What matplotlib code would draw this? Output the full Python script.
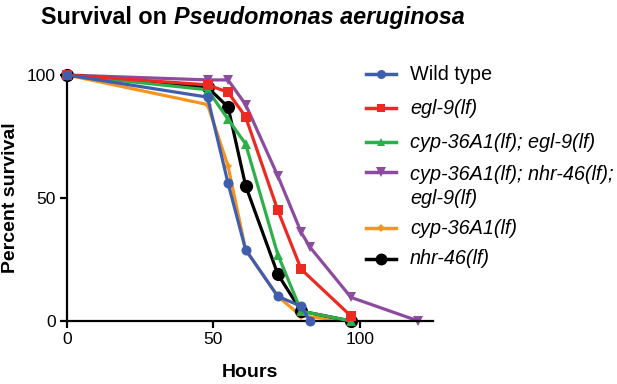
import matplotlib
matplotlib.use("Agg")
import matplotlib.pyplot as plt
from matplotlib.lines import Line2D

plt.rcParams['font.family'] = ['Liberation Sans', 'DejaVu Sans']

# ---- data ----
labels = ["Wild type", "egl-9(lf)", "cyp-36A1(lf); egl-9(lf)",
          "cyp-36A1(lf); nhr-46(lf);\negl-9(lf)", "cyp-36A1(lf)", "nhr-46(lf)"]
wt_x = [0, 48, 55, 61, 72, 80, 83]
wt_y = [100, 91, 56, 29, 10, 6, 0]
egl_x = [0, 48, 55, 61, 72, 80, 97]
egl_y = [100, 96, 93, 83, 45, 21, 2]
cypegl_x = [0, 48, 55, 61, 72, 80, 97]
cypegl_y = [100, 94, 82, 72, 27, 4, 0]
triple_x = [0, 48, 55, 61, 72, 80, 83, 97, 120]
triple_y = [100, 98, 98, 88, 59, 36, 30, 9.6, 0]
cyp_x = [0, 48, 55, 61, 72, 80, 97]
cyp_y = [100, 88, 63, 29, 10, 2, 0]
nhr_x = [0, 48, 55, 61, 72, 80, 97]
nhr_y = [100, 95, 87, 55, 19, 4, 0]
xticks = [0, 50, 100]
yticks = [0, 50, 100]

series = [
    (wt_x, wt_y, '#3F5EAE', 'o', 7.2, 6),
    (egl_x, egl_y, '#EC2A24', 's', 7, 5),
    (cypegl_x, cypegl_y, '#2DB04A', '^', 7, 4),
    (triple_x, triple_y, '#8C4B9E', 'v', 7.5, 1),
    (cyp_x, cyp_y, '#F7941D', 'D', 4, 2),
    (nhr_x, nhr_y, '#000000', 'o', 9.5, 3),
]

W, H = 617, 384
fig = plt.figure(figsize=(W / 100, H / 100), dpi=100)
ax = fig.add_axes([67 / W, 1 - 321 / H, (433 - 67) / W, (321 - 75) / H])

for (x, y, c, m, ms, z) in series:
    ax.plot(x, y, color=c, marker=m, markersize=ms, linewidth=2.3,
            markeredgewidth=0, zorder=z, clip_on=False)

ax.set_xlim(0, 125)
ax.set_ylim(0, 100)
ax.set_xticks(xticks)
ax.set_yticks(yticks)
for s in ['top', 'right']:
    ax.spines[s].set_visible(False)
for s in ['left', 'bottom']:
    ax.spines[s].set_linewidth(1.6)
ax.tick_params(axis='both', width=1.6, length=5, labelsize=12.5, pad=3)
ax.set_xlabel("Hours", fontsize=14, fontweight='bold', labelpad=12)
ax.set_ylabel("Percent survival", fontsize=14, fontweight='bold', labelpad=6)

# ---- title ----
t1 = fig.text(41 / W, 1 - 24 / H, "Survival on ", fontsize=16.8, fontweight='bold',
              va='baseline', ha='left')
fig.canvas.draw()
ax.annotate("Pseudomonas aeruginosa", xy=(1, 0), xycoords=t1, fontsize=16.8,
            fontweight='bold', fontstyle='italic', va='bottom', ha='left',
            annotation_clip=False)

# ---- legend (manual) ----
leg_y = [74, 108, 142, 172, 228, 259]
for (x, y, c, m, ms, z), lab, yy in zip(series, labels, leg_y):
    fy = 1 - yy / H
    fig.add_artist(Line2D([366 / W, 396 / W], [fy, fy], color=c, linewidth=2.5,
                          transform=fig.transFigure))
    fig.add_artist(Line2D([381 / W], [fy], color=c, marker=m, markersize=ms * 0.9,
                          markeredgewidth=0, transform=fig.transFigure))
    style = 'normal' if lab == "Wild type" else 'italic'
    if '\n' in lab:
        fig.text(410 / W, 1 - (yy - 7) / H, lab, fontsize=14.3, fontstyle=style,
                 va='top', ha='left', linespacing=1.3)
    else:
        fig.text(410 / W, fy, lab, fontsize=14.3, fontstyle=style,
                 va='center', ha='left')

fig.savefig("out.png", dpi=100)
